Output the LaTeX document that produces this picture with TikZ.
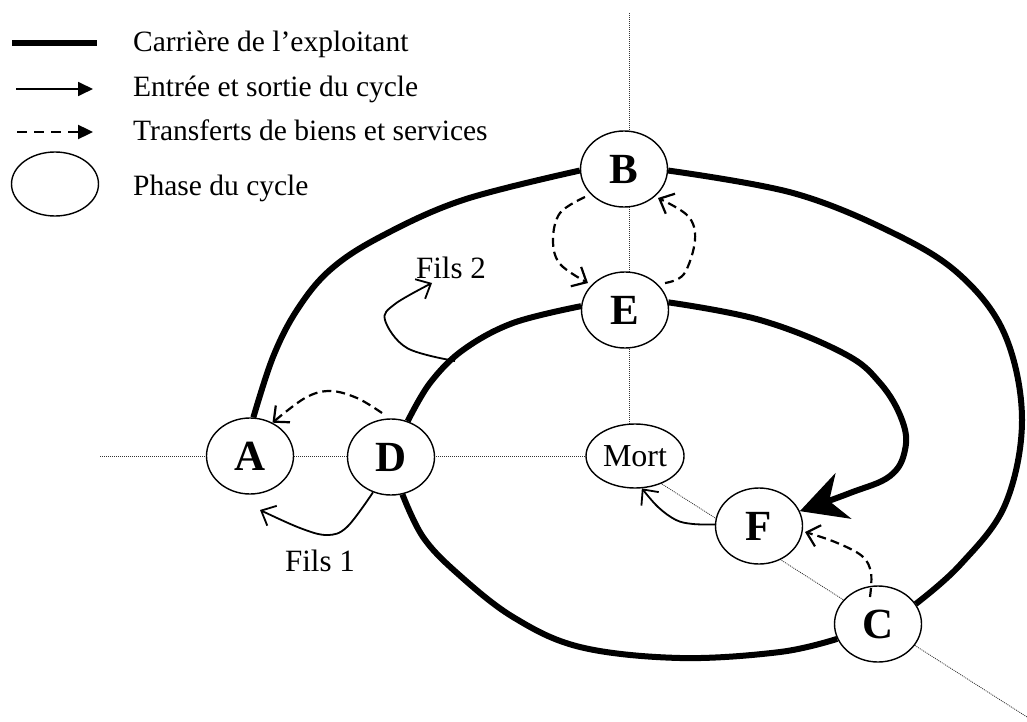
\documentclass[tikz,border=0pt]{standalone}
\usepackage{fontspec}
\setmainfont{Liberation Serif}
\usetikzlibrary{arrows.meta,shapes.geometric}
\begin{document}
\begin{tikzpicture}[x=1pt,y=-1pt,
  phase/.style={ellipse, draw, line width=1.4pt, fill=white, inner sep=0pt,
    minimum width=87pt, minimum height=76pt, font=\fontsize{43}{43}\selectfont\bfseries},
  mortbox/.style={ellipse, draw, line width=1.4pt, fill=white, inner sep=0pt,
    minimum width=98pt, minimum height=64pt, font=\fontsize{32}{32}\selectfont},
  carriere/.style={line width=6pt},
  entree/.style={line width=1.8pt, -{Straight Barb[length=12pt,width=22pt]}},
  transfert/.style={line width=2.2pt, dash pattern=on 9pt off 5pt, -{Straight Barb[length=12pt,width=22pt]}},
  axe/.style={line width=0.8pt, dash pattern=on 1pt off 1pt, black!80},
  lbl/.style={font=\fontsize{31}{31}\selectfont, inner sep=0pt},
  leg/.style={font=\fontsize{29.5}{29.5}\selectfont, inner sep=0pt, anchor=base west},
]
\useasboundingbox (0,0) rectangle (1027,722);

% axes (dotted)
\coordinate (hs) at (100,456);
\coordinate (he) at (635,456);
\coordinate (vs) at (629,13);
\coordinate (ve) at (629,456);
\coordinate (ds) at (640,470);
\coordinate (de) at (1027,717);
\draw[axe] (hs) -- (he);
\draw[axe] (vs) -- (ve);
\draw[axe] (ds) -- (de);

% legend
\coordinate (l1a) at (12,43);  \coordinate (l1b) at (97,43);
\coordinate (l2a) at (16,89);  \coordinate (l2b) at (93,89);
\coordinate (l3a) at (17,132); \coordinate (l3b) at (93,132);
\draw[line width=6pt] (l1a) -- (l1b);
\draw[line width=1.8pt, -{Triangle[length=15pt,width=14pt]}] (l2a) -- (l2b);
\draw[line width=2.4pt, dash pattern=on 10pt off 7pt, -{Triangle[length=15pt,width=14pt]}] (l3a) -- (l3b);
\node[ellipse, draw, line width=1.4pt, minimum width=87pt, minimum height=64pt, inner sep=0pt] (lph) at (55,184) {};
\node[leg] (t1) at (133,52) {Carrière de l’exploitant};
\node[leg] (t2) at (133,97) {Entrée et sortie du cycle};
\node[leg] (t3) at (133,141) {Transferts de biens et services};
\node[leg] (t4) at (133,196) {Phase du cycle};

% phases
\node[phase] (A) at (250,456) {A};
\node[phase] (D) at (391,457) {D};
\node[phase] (B) at (624,169) {B};
\node[phase] (E) at (625,310) {E};
\node[mortbox] (M) at (635,456) {Mort};
\node[phase] (F) at (759,526) {F};
\node[phase] (C) at (878,624) {C};

% carriere
\draw[carriere] plot[smooth, tension=0.6] coordinates {(A.85) (273,357) (297,310) (330,270) (380,237) (463,200) (B.182)};
\draw[carriere] plot[smooth, tension=0.6] coordinates {(B.-2) (793,193) (893,233) (960,275) (1005,335) (1022,420) (1005,505) (960,565) (C.28)};
\draw[carriere] plot[smooth, tension=0.6] coordinates {(C.200) (780,652) (680,658) (580,647) (513,617) (457,573) (423,537) (D.-73)};
\draw[carriere] plot[smooth, tension=0.6] coordinates {(D.65) (430,383) (463,350) (513,323) (E.175)};
\draw[carriere, -{Stealth[length=46pt,width=48pt,inset=15pt]}] plot[smooth, tension=0.65] coordinates {(E.10) (760,320) (843,353) (880,383) (902,420) (905,450) (890,476) (850,493) (F.20)};

% labels
\node[lbl] (fils2) at (451,268) {Fils 2};
\node[lbl] (fils1) at (320,561) {Fils 1};

% entree / sortie
\coordinate (f2s) at (455,361);
\coordinate (f2e) at (432,283);
\draw[entree] plot[smooth, tension=0.6] coordinates {(f2s) (407,348) (385,320) (395,304) (f2e)};
\coordinate (f1e) at (260,510);
\draw[entree] plot[smooth, tension=0.6] coordinates {(D.-117) (347,527) (327,535) (300,528) (f1e)};
\draw[entree] plot[smooth, tension=0.6] coordinates {(F.178) (693,524) (676,520) (658,507) (M.-78)};

% transferts
\coordinate (da) at (382,413);
\draw[transfert] plot[smooth, tension=0.6] coordinates {(da) (357,398) (330,391) (305,398) (A.56)};
\coordinate (be1) at (585,197);
\coordinate (be2) at (588,283);
\draw[transfert] plot[smooth, tension=0.6] coordinates {(be1) (560,213) (553,240) (560,264) (be2)};
\coordinate (eb1) at (665,283);
\coordinate (eb2) at (658,198);
\draw[transfert] plot[smooth, tension=0.6] coordinates {(eb1) (684,274) (695,240) (688,216) (eb2)};
\coordinate (cf1) at (870,597);
\coordinate (cf2) at (805,532);
\draw[transfert] plot[smooth, tension=0.6] coordinates {(cf1) (871,573) (862,556) (835,542) (cf2)};
\end{tikzpicture}
\end{document}
